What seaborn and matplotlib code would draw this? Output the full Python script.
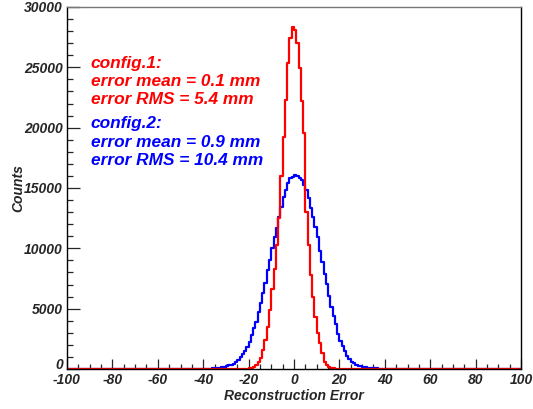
import numpy as np
import pandas as pd
import matplotlib
matplotlib.use("Agg")
import matplotlib.pyplot as plt
import matplotlib.transforms as mtransforms
import seaborn as sns

# histogram binning: 1 unit bins from -100 to 100
edges = np.arange(-100, 101, 1)
centers = edges[:-1] + 0.5

# config.1 (red): counts for bins starting at -22 ... 20
red_start = -22
red_counts = [15, 30, 55, 100, 180, 320, 560, 950, 1600, 2400, 3500, 4900, 6600,
              8300, 10300, 12500, 16000, 19250, 22290, 25330, 27400, 28310,
              28090, 26980, 24970, 22210, 19530, 13040, 10270, 7790, 5990, 4340,
              2960, 2130, 1300, 610, 330, 190, 110, 70, 40, 25, 15]

# config.2 (blue): counts for bins starting at -40 ... 45
blue_start = -40
blue_counts = [10, 15, 30, 40, 50, 70, 90, 110, 150, 190, 240, 300, 370, 450, 550,
               750, 970, 1240, 1490, 1850, 2260, 2820, 3370, 3920, 4750, 5440,
               6270, 7100, 8200, 9030, 10000, 10970, 11660, 12620, 13450, 14280,
               14830, 15380, 15800, 15940,
               16050, 16000, 15840, 15630, 15220, 14800, 14170, 13340, 12620,
               11800, 10900, 9800, 8840, 7900, 7040, 6070, 5110, 4420, 3730, 2920,
               2350, 1930, 1520, 1110, 830, 600, 470, 340, 270, 220, 170, 130, 110,
               90, 70, 55, 45, 35, 25, 20, 15, 10, 8, 6, 4, 3]

x_ticks = [-100, -80, -60, -40, -20, 0, 20, 40, 60, 80, 100]
y_ticks = [0, 5000, 10000, 15000, 20000, 25000, 30000]

texts_red = ["config.1:", "error mean = 0.1 mm", "error RMS = 5.4 mm"]
texts_blue = ["config.2:", "error mean = 0.9 mm", "error RMS = 10.4 mm"]


def full_hist(start, counts):
    h = np.zeros(len(centers))
    i0 = start + 100
    h[i0:i0 + len(counts)] = counts
    return h


red = pd.DataFrame({"x": centers, "w": full_hist(red_start, red_counts)})
blue = pd.DataFrame({"x": centers, "w": full_hist(blue_start, blue_counts)})

sns.set_style("ticks")
plt.rcParams["font.family"] = ["Liberation Sans", "DejaVu Sans"]

fig = plt.figure(figsize=(5.33, 4.09), dpi=100)
ax = fig.add_axes([0.1257, 0.0978, 0.8518, 0.8851])

sns.histplot(data=blue, x="x", weights="w", binwidth=1, binrange=(-100, 100),
             element="step", fill=False, color="#0000ff", linewidth=1.6, ax=ax)
sns.histplot(data=red, x="x", weights="w", binwidth=1, binrange=(-100, 100),
             element="step", fill=False, color="#ff0000", linewidth=1.6, ax=ax)

ax.set_xlim(-100, 100)
ax.set_ylim(0, 30000)
ax.set_xticks(x_ticks)
ax.set_yticks(y_ticks)
ax.set_xticks(np.arange(-100, 101, 5), minor=True)
ax.set_yticks(np.arange(0, 30001, 1000), minor=True)
ax.set_xticklabels([str(t) for t in x_ticks], fontsize=10, fontweight="bold", style="italic")
ax.set_yticklabels([str(t) for t in y_ticks], fontsize=10, fontweight="bold", style="italic")
ax.tick_params(axis="x", which="major", direction="in", length=7.5, width=0.9, pad=3)
ax.tick_params(axis="x", which="minor", direction="in", length=3.5, width=0.9)
ax.tick_params(axis="y", which="major", direction="in", length=9.5, width=0.9, pad=3)
ax.tick_params(axis="y", which="minor", direction="in", length=4.5, width=0.9)

# lift the "0" y label a little so it clears the "-100" x label
zero_lbl = ax.get_yticklabels()[0]
zero_lbl.set_transform(zero_lbl.get_transform() +
                       mtransforms.ScaledTranslation(0, 4 / 72, fig.dpi_scale_trans))

for s in ax.spines.values():
    s.set_linewidth(1.0)
    s.set_color("black")
ax.spines["top"].set_color("#777777")

ax.set_xlabel("Reconstruction Error", fontsize=10, fontweight="bold", style="italic", labelpad=1)
ax.set_ylabel("Counts", fontsize=10, fontweight="bold", style="italic", labelpad=-1)

y0 = 0.845
dy = 0.0500
for i, t in enumerate(texts_red):
    ax.text(0.052, y0 - i * dy, t, transform=ax.transAxes, color="#ff0000",
            fontsize=12.4, fontweight="bold", style="italic", va="center")
for i, t in enumerate(texts_blue):
    ax.text(0.052, y0 - 0.168 - i * dy, t, transform=ax.transAxes, color="#0000ff",
            fontsize=12.4, fontweight="bold", style="italic", va="center")

plt.savefig("out.png", dpi=100)
